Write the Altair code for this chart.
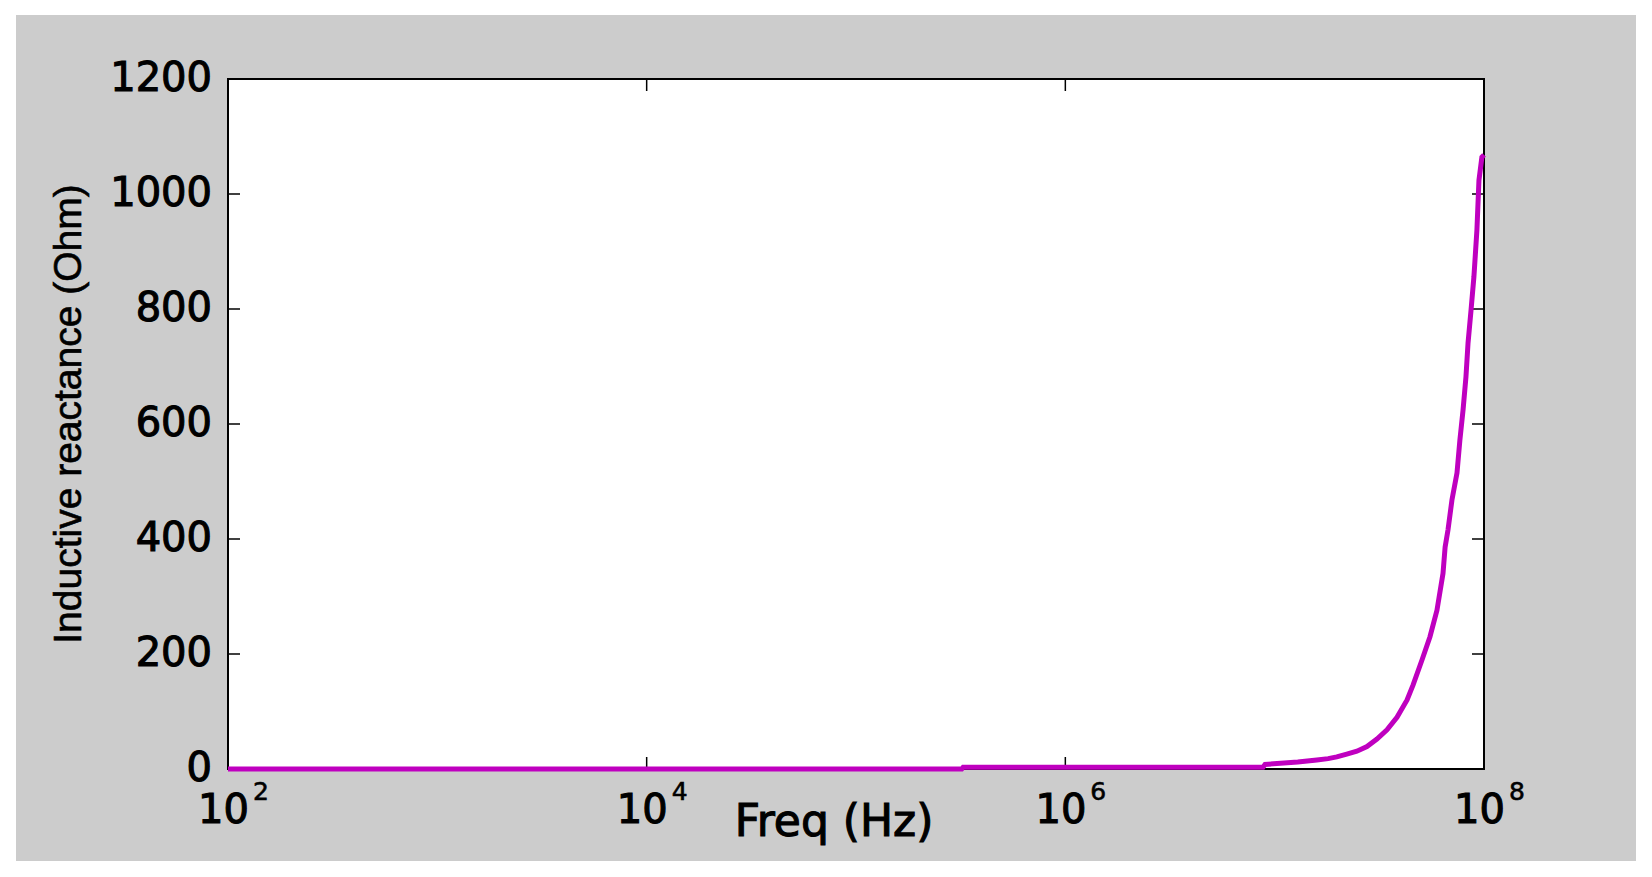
import altair as alt
import pandas as pd

# ---- data ----
FREQ_HZ = [1e2, 3.2e5, 3.25e5, 8.8e6, 9.0e6, 1.29e7, 1.59e7, 1.80e7, 1.98e7, 2.21e7,
           2.47e7, 2.76e7, 3.08e7, 3.44e7, 3.84e7, 4.29e7, 4.58e7, 5.06e7, 5.52e7, 5.96e7,
           6.37e7, 6.52e7, 6.73e7, 7.03e7, 7.43e7, 7.67e7, 7.94e7, 8.20e7, 8.39e7, 8.67e7,
           8.95e7, 9.25e7, 9.46e7, 9.77e7, 1.0e8]
REACTANCE_OHM = [0, 0, 3, 3, 8, 12, 15.6, 18, 21, 26,
                 31, 39, 52, 68, 90, 120, 146, 190, 230, 276,
                 340, 386, 416, 468, 515, 572, 624, 682, 741, 798,
                 856, 937, 1024, 1064, 1068]

X_TICKS = [1e2, 1e4, 1e6, 1e8]
X_TICK_BASE = ["10", "10", "10", "10"]
X_TICK_EXP = ["2", "4", "6", "8"]
Y_TICKS = [0, 200, 400, 600, 800, 1000, 1200]
Y_TICK_LABELS = ["0", "200", "400", "600", "800", "1000", "1200"]

X_TITLE = "Freq (Hz)"
Y_TITLE = "Inductive reactance (Ohm)"

# ---- layout ----
W, H = 1256, 690
PAD = {"left": 220, "top": 71, "right": 160, "bottom": 100}
GRAY = "#cccccc"
MAGENTA = "#bf00bf"
TICK_LEN = 12
FONT = "DejaVu Sans"

curve_df = pd.DataFrame({"f": FREQ_HZ, "x": REACTANCE_OHM})
xt_df = pd.DataFrame({"f": X_TICKS, "base": X_TICK_BASE, "exp": X_TICK_EXP})
yt_df = pd.DataFrame({"x": Y_TICKS, "lab": Y_TICK_LABELS})
one = pd.DataFrame({"xt": [X_TITLE], "yt": [Y_TITLE]})

x_enc = alt.X("f:Q", scale=alt.Scale(type="log", domain=[1e2, 1e8], nice=False), axis=None)
y_enc = alt.Y("x:Q", scale=alt.Scale(domain=[0, 1200], nice=False, zero=False), axis=None)

gray_bg = alt.Chart(one).mark_rect(color=GRAY).encode(
    x=alt.value(-212), x2=alt.value(1408), y=alt.value(-64), y2=alt.value(782)
)
box = alt.Chart(one).mark_rect(fill="white", stroke="black", strokeWidth=2).encode(
    x=alt.value(0), x2=alt.value(W), y=alt.value(0), y2=alt.value(H)
)
curve = alt.Chart(curve_df).mark_line(color=MAGENTA, strokeWidth=5).encode(
    x=x_enc, y=y_enc, order="f:Q"
)
xt_bottom = alt.Chart(xt_df).mark_rule(color="black", strokeWidth=1.5).encode(
    x=x_enc, y=alt.value(H - TICK_LEN), y2=alt.value(H)
)
xt_top = alt.Chart(xt_df).mark_rule(color="black", strokeWidth=1.5).encode(
    x=x_enc, y=alt.value(0), y2=alt.value(TICK_LEN)
)
yt_left = alt.Chart(yt_df).mark_rule(color="black", strokeWidth=1.5).encode(
    y=y_enc, x=alt.value(0), x2=alt.value(TICK_LEN)
)
yt_right = alt.Chart(yt_df).mark_rule(color="black", strokeWidth=1.5).encode(
    y=y_enc, x=alt.value(W - TICK_LEN), x2=alt.value(W)
)

txt = dict(font=FONT, color="black", stroke="black")
xlab_base = alt.Chart(xt_df).mark_text(
    fontSize=40, strokeWidth=1.1, align="right", baseline="alphabetic", dx=21, **txt
).encode(x=x_enc, y=alt.value(744), text="base:N")
xlab_exp = alt.Chart(xt_df).mark_text(
    fontSize=25, strokeWidth=0.6, align="left", baseline="alphabetic", dx=25, **txt
).encode(x=x_enc, y=alt.value(721), text="exp:N")
ylab = alt.Chart(yt_df).mark_text(
    fontSize=40, strokeWidth=1.1, align="right", baseline="middle", dx=0, **txt
).encode(y=y_enc, x=alt.value(-16), text="lab:N")
xtitle = alt.Chart(one).mark_text(
    fontSize=44, strokeWidth=1.1, align="center", baseline="alphabetic", **txt
).encode(x=alt.value(606), y=alt.value(757), text="xt:N")
ytitle = alt.Chart(one).mark_text(
    font="Liberation Sans", fontSize=39, color="black", stroke="black", strokeWidth=0.6,
    angle=270, align="center", baseline="alphabetic",
).encode(x=alt.value(-147), y=alt.value(335), text="yt:N")

chart = alt.layer(
    gray_bg, box, xt_bottom, xt_top, yt_left, yt_right, curve,
    xlab_base, xlab_exp, ylab, xtitle, ytitle
).properties(
    width=W, height=H,
    autosize=alt.AutoSizeParams(type="none"),
    padding=PAD,
    background="white",
).configure_view(stroke=None)

chart.save("out.html", embed_options={"renderer": "svg", "actions": False})
